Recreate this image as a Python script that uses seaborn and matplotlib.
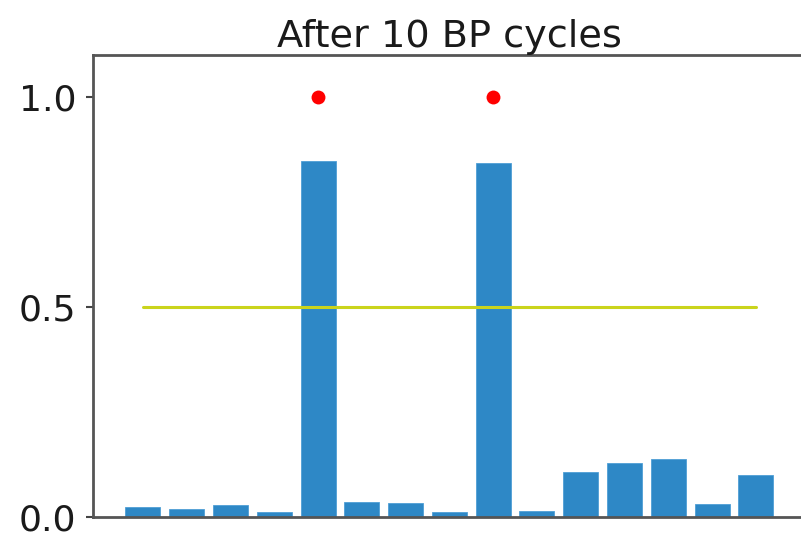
import matplotlib
matplotlib.use("Agg")
import matplotlib.pyplot as plt
import numpy as np
import pandas as pd
import seaborn as sns

# Output probabilities per basis state after belief propagation
states = list(range(15))
probabilities = [0.024, 0.020, 0.028, 0.011, 0.847, 0.036, 0.034, 0.012,
                 0.842, 0.015, 0.106, 0.128, 0.139, 0.032, 0.101]
# Marked (target) states and their ideal value
target_states = [4, 8]
target_values = [1.0, 1.0]
threshold = 0.5
title = "After 10 BP cycles"
yticks = [0.0, 0.5, 1.0]

sns.set_style("white")
plt.rcParams['font.family'] = ['DejaVu Sans']

fig = plt.figure(figsize=(8.01, 5.38), dpi=100)
ax = fig.add_axes([0.1161, 0.039, 0.8899, 0.8588])

df = pd.DataFrame({"state": states, "p": probabilities})
sns.barplot(data=df, x="state", y="p", order=states, color="#2e88c6",
            saturation=1, width=0.8, edgecolor="#4f9fd6", linewidth=0.6, ax=ax)

ax.plot([states[0], states[-1]], [threshold, threshold], color="#cad41c", lw=2.2, zorder=3)
ax.plot(target_states, target_values, "o", color="#ff0000", ms=10, mec="none", zorder=4)

ax.set_xlim(-1.142, 15.142)
ax.set_ylim(0, 1.1)
ax.set_xticks([])
ax.set_yticks(yticks)
ax.set_yticklabels([f"{v:.1f}" for v in yticks])
ax.set_xlabel("")
ax.set_ylabel("")
ax.tick_params(axis="y", labelsize=26, length=5, width=1.5, color="#444444",
               labelcolor="#1a1a1a", pad=7, left=True)
for s in ax.spines.values():
    s.set_color("#555555")
    s.set_linewidth(2)
ax.set_title(title, fontsize=27.5, pad=6, color="#1a1a1a")

fig.savefig("out.png", dpi=100)
